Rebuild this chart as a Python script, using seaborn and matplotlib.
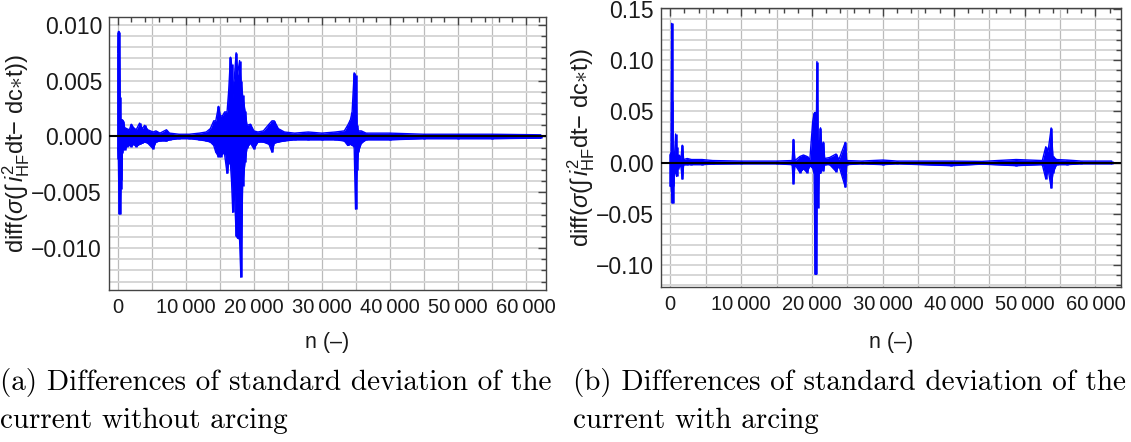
import numpy as np
import matplotlib
matplotlib.use("Agg")
import matplotlib.pyplot as plt
import seaborn as sns
from matplotlib.ticker import MultipleLocator, FixedLocator, FixedFormatter

# ---------------- data ----------------
# panel (a): without arcing -- sample index, upper / lower envelope
n_a = [0, 80, 200, 320, 420, 520, 650, 800, 1000, 1300, 1700, 1970, 2300, 2700,
       3200, 3600, 3940, 4400, 5180, 5600, 6200, 7150, 7600, 9000, 10500, 12000,
       13000, 13600, 14100, 14400, 14800, 15100, 15450, 15700, 16060, 16300,
       16560, 16720, 16900, 17100, 17400, 17600, 17900, 18090, 18350, 18700,
       19000, 19500, 20000, 20600, 21400, 22230, 22670, 23000, 23600, 24500,
       26000, 28000, 30000, 32000, 33300, 33800, 34200, 34450, 34750, 34950,
       35150, 35350, 35800, 36500, 40000, 45000, 50000, 55000, 62200]
hi_a = [0.0075, 0.0094, 0.0094, 0.0035, 0.0012, 0.0015, 0.0015, 0.0014, 0.0008,
        0.0007, 0.0006, 0.0011, 0.0008, 0.0006, 0.0012, 0.0007, 0.0010, 0.0006,
        0.0004, 0.0005, 0.0003, 0.0006, 0.0003, 0.0002, 0.0002, 0.0003, 0.0004,
        0.0007, 0.0014, 0.0014, 0.0027, 0.0018, 0.0019, 0.0022, 0.0022, 0.0041,
        0.0071, 0.0065, 0.0033, 0.0050, 0.0075, 0.0055, 0.0068, 0.0050, 0.0037,
        0.0023, 0.0010, 0.0011, 0.0005, 0.0004, 0.0005, 0.0011, 0.0014, 0.0014,
        0.0007, 0.0004, 0.0003, 0.0004, 0.0003, 0.0004, 0.0005, 0.0010, 0.0015,
        0.0022, 0.0057, 0.0055, 0.0010, 0.0005, 0.0005, 0.0003, 0.0003, 0.0002,
        0.0002, 0.0002, 0.00015]
lo_a = [-0.0011, -0.0020, -0.0069, -0.0069, -0.0047, -0.0039, -0.0015, -0.0011,
        -0.0012, -0.0009, -0.0008, -0.0009, -0.0007, -0.0009, -0.0007, -0.0006,
        -0.0005, -0.0006, -0.0011, -0.0005, -0.0004, -0.0004, -0.0003, -0.0002,
        -0.0002, -0.0003, -0.0004, -0.0005, -0.0008, -0.0014, -0.0018, -0.0018,
        -0.0015, -0.0016, -0.0033, -0.0023, -0.0025, -0.0040, -0.0068, -0.0042,
        -0.0089, -0.0091, -0.0092, -0.0126, -0.0044, -0.0023, -0.0010, -0.0006,
        -0.0011, -0.0005, -0.0005, -0.0007, -0.0014, -0.0006, -0.0005, -0.0004,
        -0.0003, -0.0003, -0.0003, -0.0003, -0.0004, -0.0008, -0.0007, -0.0008,
        -0.0009, -0.0065, -0.0030, -0.0014, -0.0006, -0.0003, -0.0003, -0.0002,
        -0.0002, -0.0002, -0.00015]

# panel (b): with arcing
n_b = [0, 120, 200, 260, 350, 450, 600, 760, 900, 1050, 1250, 1500, 1700, 1900,
       2400, 3000, 4500, 6000, 10000, 15000, 17200, 17390, 17600, 18300, 18800,
       19300, 19700, 20100, 20300, 20450, 20600, 20700, 20850, 21000, 21200,
       21400, 21600, 21800, 22500, 23400, 23800, 24700, 24900, 27000, 30000,
       32000, 39660, 44000, 48800, 52500, 52990, 53300, 53750, 54000, 54500,
       56000, 58000, 62300]
hi_b = [0.008, 0.010, 0.136, 0.060, 0.010, 0.008, 0.006, 0.028, 0.015, 0.006,
        0.0074, 0.003, 0.017, 0.003, 0.004, 0.003, 0.003, 0.002, 0.0015, 0.0015,
        0.002, 0.0226, 0.002, 0.006, 0.0074, 0.006, 0.003, 0.040, 0.048, 0.049,
        0.020, 0.0987, 0.022, 0.010, 0.034, 0.012, 0.020, 0.004, 0.005, 0.0084,
        0.003, 0.0197, 0.002, 0.0015, 0.0025, 0.0015, 0.0015, 0.0012, 0.003, 0.002,
        0.0155, 0.0106, 0.0339, 0.006, 0.003, 0.0025, 0.0015, 0.0015]
lo_b = [-0.023, -0.023, -0.030, -0.039, -0.039, -0.023, -0.008, -0.010, -0.0135,
        -0.006, -0.004, -0.003, -0.016, -0.002, -0.002, -0.002, -0.002, -0.0015,
        -0.0012, -0.0012, -0.002, -0.0206, -0.002, -0.0097, -0.006, -0.0097,
        -0.003, -0.0055, -0.010, -0.109, -0.109, -0.020, -0.044, -0.010, -0.0103,
        -0.006, -0.008, -0.002, -0.002, -0.0087, -0.003, -0.0239, -0.002, -0.0012,
        -0.002, -0.0012, -0.003, -0.0015, -0.003, -0.002, -0.0158, -0.006,
        -0.0248, -0.010, -0.002, -0.002, -0.0012, -0.0012]

xticks = [0, 10000, 20000, 30000, 40000, 50000, 60000]
xticklabels = ["0", "10\u2009000", "20\u2009000", "30\u2009000", "40\u2009000",
               "50\u2009000", "60\u2009000"]
yticks_a = [-0.010, -0.005, 0.0, 0.005, 0.010]
yticklabels_a = ["\u22120.010", "\u22120.005", "0.000", "0.005", "0.010"]
yticks_b = [-0.10, -0.05, 0.0, 0.05, 0.10, 0.15]
yticklabels_b = ["\u22120.10", "\u22120.05", "0.00", "0.05", "0.10", "0.15"]

ylabel = r"diff($\sigma$($\int\,i^{2}_{\mathrm{HF}}$dt$-$ dc$\ast$t))"
xlabel = "n (\u2013)"
cap_a = "(a) Differences of standard deviation of the\ncurrent without arcing"
cap_b = "(b) Differences of standard deviation of the\ncurrent with arcing"

# ---------------- style ----------------
sns.set_style("white")
plt.rcParams["font.family"] = ["Liberation Sans", "DejaVu Sans"]
plt.rcParams["mathtext.fontset"] = "custom"
plt.rcParams["mathtext.rm"] = "Liberation Sans"
plt.rcParams["mathtext.it"] = "Liberation Sans:italic"
plt.rcParams["mathtext.bf"] = "Liberation Sans:bold"

BLUE = "#0000ff"
FRAME = "#444444"
TXT = "#1a1a1a"

fig = plt.figure(figsize=(11.31, 4.42), dpi=100)
ax_a = fig.add_axes([109 / 1131, 1 - 290 / 442, 437 / 1131, 273 / 442])
ax_b = fig.add_axes([661 / 1131, 1 - 287 / 442, 460 / 1131, 279 / 442])


def draw(ax, n, hi, lo, xlim, ylim, yticks, yticklabels, ygrid_step, yminor,
         ylab_x, xlab_y):
    n = np.asarray(n, float)
    hi = np.asarray(hi, float)
    lo = np.asarray(lo, float)
    ax.set_xlim(*xlim)
    ax.set_ylim(*ylim)
    # grid
    for gx in np.arange(0, 62001, 5000):
        ax.axvline(gx, color="#bbbbbb", lw=0.9, zorder=0)
    k0 = int(np.ceil(ylim[0] / ygrid_step))
    k1 = int(np.floor(ylim[1] / ygrid_step))
    for k in range(k0, k1 + 1):
        ax.axhline(k * ygrid_step, color="#d6d6d6", lw=1.4, zorder=0)
    # signal
    ax.fill_between(n, lo, hi, color=BLUE, lw=0, zorder=2)
    sns.lineplot(x=n, y=hi, ax=ax, color=BLUE, lw=1.0, estimator=None,
                 sort=False, zorder=3)
    sns.lineplot(x=n, y=lo, ax=ax, color=BLUE, lw=1.0, estimator=None,
                 sort=False, zorder=3)
    ax.vlines(n, lo, hi, color=BLUE, lw=1.8, zorder=3)
    ax.axhline(0, color="black", lw=1.5, zorder=4)
    # ticks
    ax.xaxis.set_major_locator(FixedLocator(xticks))
    ax.xaxis.set_major_formatter(FixedFormatter(xticklabels))
    ax.xaxis.set_minor_locator(MultipleLocator(2000))
    ax.yaxis.set_major_locator(FixedLocator(yticks))
    ax.yaxis.set_major_formatter(FixedFormatter(yticklabels))
    ax.yaxis.set_minor_locator(MultipleLocator(yminor))
    ax.tick_params(which="both", direction="in", top=True, right=True,
                   color=FRAME, width=1.0)
    ax.tick_params(which="major", length=6, labelcolor=TXT)
    ax.tick_params(axis="y", which="major", labelsize=16.5, pad=5)
    ax.tick_params(axis="x", which="major", labelsize=14.5, pad=6)
    ax.tick_params(which="minor", length=3.5)
    for s in ax.spines.values():
        s.set_color(FRAME)
        s.set_linewidth(1.0)
        s.set_visible(True)
    ax.set_ylabel(ylabel, fontsize=17, color=TXT)
    ax.set_xlabel(xlabel, fontsize=15.5, color=TXT)
    ax.yaxis.set_label_coords(ylab_x, 0.5)
    ax.xaxis.set_label_coords(0.5, xlab_y)


draw(ax_a, n_a, hi_a, lo_a, (-1300, 62960), (-0.01375, 0.0107),
     yticks_a, yticklabels_a, 0.001, 0.001, -0.176, -0.155)
draw(ax_b, n_b, hi_b, lo_b, (-1300, 63600), (-0.1215, 0.151),
     yticks_b, yticklabels_b, 0.01, 0.01, -0.14, -0.16)

fig.text(0.0, 1 - 368 / 442, cap_a, family="cmr10", fontsize=21, va="top",
         ha="left", linespacing=1.52, color="black")
fig.text(573 / 1131, 1 - 368 / 442, cap_b, family="cmr10", fontsize=21,
         va="top", ha="left", linespacing=1.52, color="black")

fig.savefig("out.png", dpi=100)
